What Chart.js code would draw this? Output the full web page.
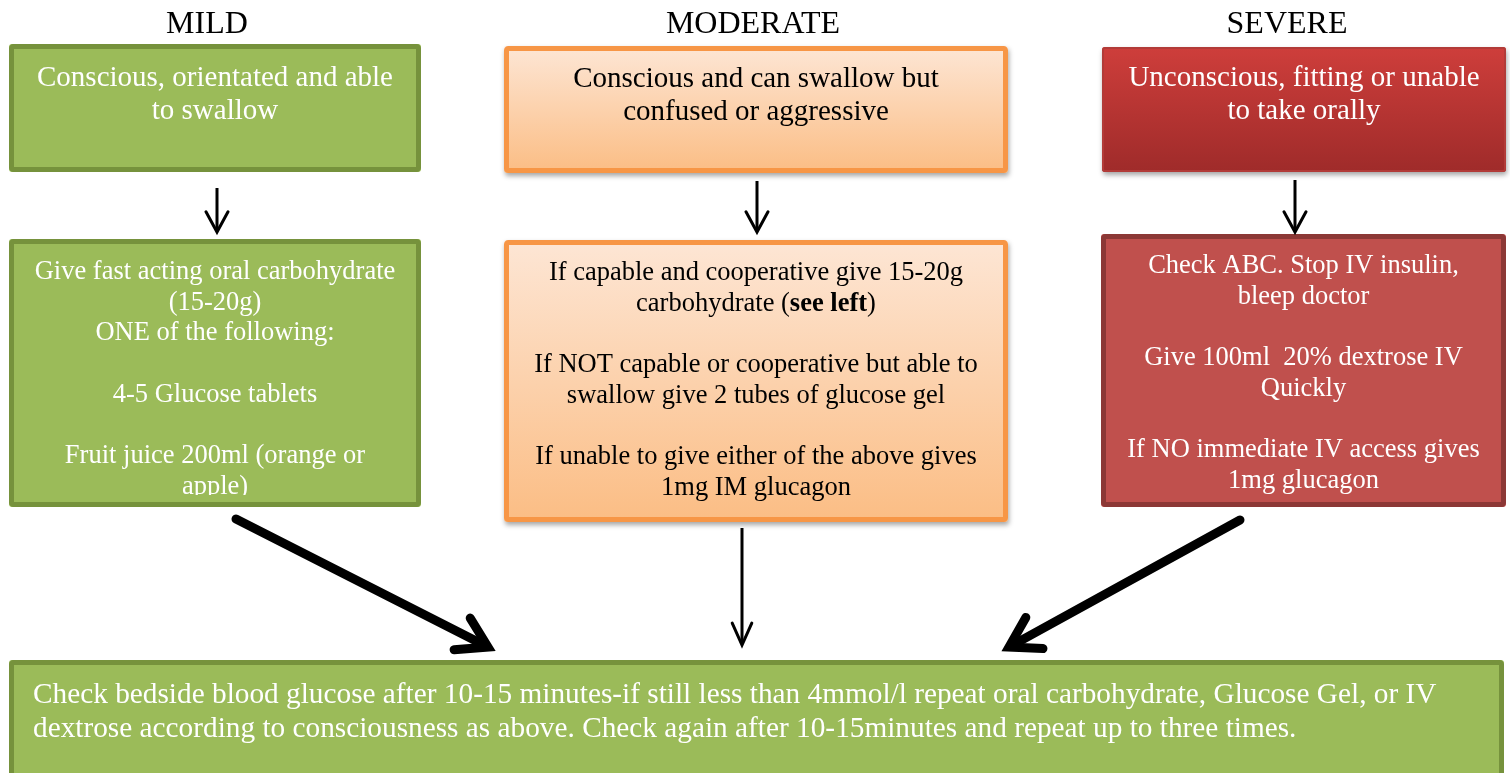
<!DOCTYPE html>
<html>
<head>
<meta charset="utf-8">
<script src="https://cdn.jsdelivr.net/npm/chart.js@4.4.1/dist/chart.umd.min.js"></script>
<style>
  html, body { margin: 0; padding: 0; background: #fff; }
  #wrap { width: 1510px; height: 773px; }
</style>
</head>
<body>
<div id="wrap"><canvas id="flow" width="1510" height="773"></canvas></div>
<script>
'use strict'

// severity columns and the text of each box
const columns = ['MILD', 'MODERATE', 'SEVERE'];
const conditions = [
  ['Conscious, orientated and able', 'to swallow'],
  ['Conscious and can swallow but', 'confused or aggressive'],
  ['Unconscious, fitting or unable', 'to take orally']
];
const treatments = [
  ['Give fast acting oral carbohydrate', '(15-20g)', 'ONE of the following:', '', '4-5 Glucose tablets', '', 'Fruit juice 200ml (orange or', 'apple)'],
  ['If capable and cooperative give 15-20g', 'carbohydrate (**see left**)', '', 'If NOT capable or cooperative but able to', 'swallow give 2 tubes of glucose gel', '', 'If unable to give either of the above gives', '1mg IM glucagon'],
  ['Check ABC. Stop IV insulin,', 'bleep doctor', '', 'Give 100ml  20% dextrose IV', 'Quickly', '', 'If NO immediate IV access gives', '1mg glucagon']
];
const followUp = [
  'Check bedside blood glucose after 10-15 minutes-if still less than 4mmol/l repeat oral carbohydrate, Glucose Gel, or IV',
  'dextrose according to consciousness as above. Check again after 10-15minutes and repeat up to three times.'
];

// layout in chart units (scale runs 0..1510 across, 0..773 down)
const layout = {
  titleX: [207, 753, 1287], titleY: 33,
  condBox: [[9, 44, 421, 172], [504, 46, 1008, 173], [1102, 47, 1506, 172]],
  condBase: [86, 87, 86], condLine: 33,
  treatBox: [[9, 239, 421, 507], [504, 240, 1008, 522], [1101, 234, 1506, 507]],
  treatBase: [279, 280, 273], treatLine: 30.7,
  followBox: [9, 660, 1504, 800], followX: 33, followBase: 703, followLine: 34,
  smallArrows: [[217, 188, 232], [757, 181, 232], [1295, 180, 232]],
  bigArrows: [[236, 519, 488, 647, 9], [742, 528, 742, 645, 3], [1240, 520, 1009, 647, 9]]
};

const styles = [
  { fill: ['#9bbb59', '#9bbb59'], stroke: '#76923c', lw: 5, text: '#ffffff', shadow: false },
  { fill: ['#fde6d5', '#fbbd84'], stroke: '#f79646', lw: 5, text: '#000000', shadow: true },
  { fill: ['#ce3e3b', '#9f2b2a'], stroke: '#b23b38', lw: 2, text: '#ffffff', shadow: true }
];
const treatStyles = [
  styles[0],
  styles[1],
  { fill: ['#c0504d', '#c0504d'], stroke: '#8c3836', lw: 5, text: '#ffffff', shadow: false }
];
const serif = '"Liberation Serif", "Times New Roman", serif';

function roundRect(ctx, x0, y0, x1, y1, r) {
  ctx.beginPath();
  ctx.moveTo(x0 + r, y0);
  ctx.arcTo(x1, y0, x1, y1, r);
  ctx.arcTo(x1, y1, x0, y1, r);
  ctx.arcTo(x0, y1, x0, y0, r);
  ctx.arcTo(x0, y0, x1, y0, r);
  ctx.closePath();
}

function drawBox(ctx, b, st) {
  const [x0, y0, x1, y1] = b;
  ctx.save();
  if (st.shadow) {
    ctx.shadowColor = 'rgba(0,0,0,0.35)';
    ctx.shadowBlur = 5;
    ctx.shadowOffsetX = 1;
    ctx.shadowOffsetY = 3;
  }
  const g = ctx.createLinearGradient(0, y0, 0, y1);
  g.addColorStop(0, st.fill[0]);
  g.addColorStop(1, st.fill[1]);
  roundRect(ctx, x0, y0, x1, y1, 3);
  ctx.fillStyle = g;
  ctx.fill();
  ctx.restore();
  ctx.save();
  roundRect(ctx, x0 + st.lw / 2, y0 + st.lw / 2, x1 - st.lw / 2, y1 - st.lw / 2, 2);
  ctx.lineWidth = st.lw;
  ctx.strokeStyle = st.stroke;
  ctx.stroke();
  ctx.restore();
}

// a line may hold **bold** runs
function drawLine(ctx, text, cx, y, size, color) {
  const parts = text.split('**').map((t, i) => ({ t, bold: i % 2 === 1 }));
  let total = 0;
  parts.forEach(p => {
    ctx.font = (p.bold ? 'bold ' : '') + size + 'px ' + serif;
    p.w = ctx.measureText(p.t).width;
    total += p.w;
  });
  let x = cx - total / 2;
  ctx.fillStyle = color;
  ctx.textAlign = 'left';
  ctx.textBaseline = 'alphabetic';
  parts.forEach(p => {
    ctx.font = (p.bold ? 'bold ' : '') + size + 'px ' + serif;
    ctx.fillText(p.t, x, y);
    x += p.w;
  });
}

function drawArrow(ctx, x0, y0, x1, y1, lw, head, spread) {
  const ang = Math.atan2(y1 - y0, x1 - x0);
  ctx.save();
  ctx.strokeStyle = '#000';
  ctx.lineWidth = lw;
  ctx.lineCap = lw > 4 ? 'round' : 'butt';
  ctx.lineJoin = 'miter';
  ctx.beginPath();
  ctx.moveTo(x0, y0);
  ctx.lineTo(x1 - Math.cos(ang) * lw * 0.5, y1 - Math.sin(ang) * lw * 0.5);
  ctx.stroke();
  ctx.lineCap = 'round';
  ctx.beginPath();
  ctx.moveTo(x1 - head * Math.cos(ang - spread), y1 - head * Math.sin(ang - spread));
  ctx.lineTo(x1, y1);
  ctx.lineTo(x1 - head * Math.cos(ang + spread), y1 - head * Math.sin(ang + spread));
  ctx.stroke();
  ctx.restore();
}

const flowchartPlugin = {
  id: 'flowchart',
  afterDraw(chart) {
    const { ctx, scales: { x, y } } = chart;
    const px = v => x.getPixelForValue(v);
    const py = v => y.getPixelForValue(v);
    const box = b => [px(b[0]), py(b[1]), px(b[2]), py(b[3])];

    ctx.save();
    // column titles
    columns.forEach((name, i) => {
      drawLine(ctx, name, px(layout.titleX[i]), py(layout.titleY), 32, '#000');
    });

    // condition boxes
    conditions.forEach((lines, i) => {
      const b = box(layout.condBox[i]);
      drawBox(ctx, b, styles[i]);
      const cx = (b[0] + b[2]) / 2;
      lines.forEach((t, j) => {
        drawLine(ctx, t, cx, py(layout.condBase[i] + j * layout.condLine), 29, styles[i].text);
      });
    });

    // treatment boxes
    treatments.forEach((lines, i) => {
      const b = box(layout.treatBox[i]);
      drawBox(ctx, b, treatStyles[i]);
      const cx = (b[0] + b[2]) / 2;
      ctx.save();
      ctx.beginPath();
      ctx.rect(b[0], b[1], b[2] - b[0], b[3] - b[1] - 12);
      ctx.clip();
      lines.forEach((t, j) => {
        if (t) drawLine(ctx, t, cx, py(layout.treatBase[i] + j * layout.treatLine), 26.5, treatStyles[i].text);
      });
      ctx.restore();
    });

    // small arrows between rows
    layout.smallArrows.forEach(a => {
      drawArrow(ctx, px(a[0]), py(a[1]), px(a[0]), py(a[2]), 3, 23, 0.5);
    });

    // follow-up box
    const fb = box(layout.followBox);
    drawBox(ctx, fb, styles[0]);
    ctx.fillStyle = '#fff';
    ctx.font = '29.3px ' + serif;
    ctx.textAlign = 'left';
    followUp.forEach((t, j) => {
      ctx.fillText(t, px(layout.followX), py(layout.followBase + j * layout.followLine));
    });

    // arrows into the follow-up box
    layout.bigArrows.forEach(a => {
      const thick = a[4] > 4;
      drawArrow(ctx, px(a[0]), py(a[1]), px(a[2]), py(a[3]), a[4], thick ? 34 : 24, thick ? 0.55 : 0.42);
    });
    ctx.restore();
  }
};

new Chart(document.getElementById('flow'), {
  type: 'scatter',
  data: { datasets: [{ data: [], pointRadius: 0 }] },
  options: {
    responsive: false,
    animation: false,
    devicePixelRatio: 1,
    layout: { padding: 0 },
    plugins: { legend: { display: false }, tooltip: { enabled: false } },
    scales: {
      x: { type: 'linear', min: 0, max: 1510, display: false },
      y: { type: 'linear', min: 0, max: 773, reverse: true, display: false }
    }
  },
  plugins: [flowchartPlugin]
});
</script>
</body>
</html>
